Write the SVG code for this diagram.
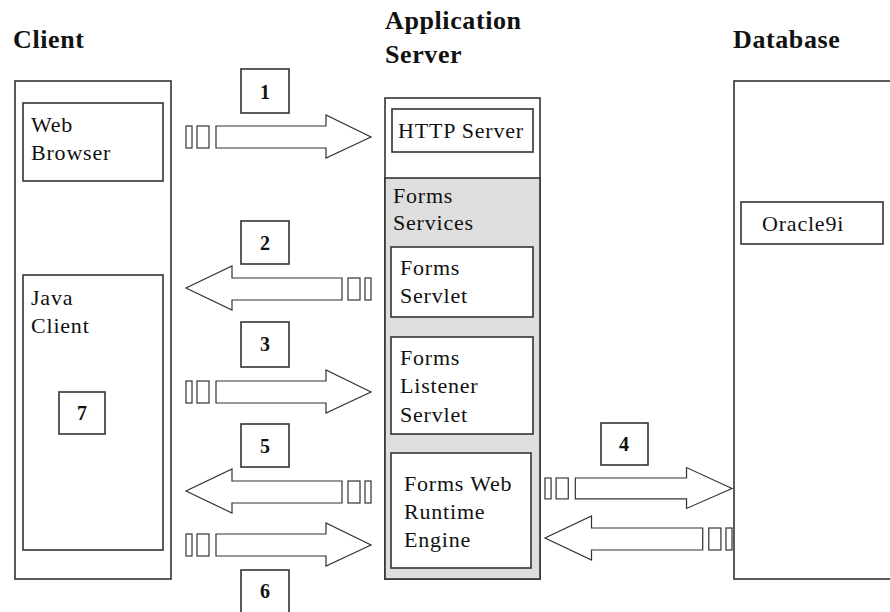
<svg xmlns="http://www.w3.org/2000/svg" width="890" height="612" viewBox="0 0 890 612">
<style>
.box{fill:#fff;stroke:#333;stroke-width:1.6}
.gray{fill:#dedede;stroke:#333;stroke-width:1.6}
.arrow{fill:#fff;stroke:#333;stroke-width:1.2}
.title{font-family:"Liberation Serif","Times New Roman",serif;font-weight:bold;font-size:26px;fill:#111;letter-spacing:0.6px}
.t{font-family:"Liberation Serif","Times New Roman",serif;font-size:22px;fill:#111;letter-spacing:0.8px}
.num{font-family:"Liberation Serif","Times New Roman",serif;font-weight:bold;font-size:20px;fill:#111;text-anchor:middle}
</style>
<rect width="890" height="612" fill="#fff"/>
<defs>
<g id="arrR">
<rect x="0" y="0" width="6" height="22" class="arrow"/>
<rect x="11" y="0" width="12" height="22" class="arrow"/>
<path d="M30,0 H140 V-11 L185,11 L140,32 V22 H30 Z" class="arrow"/>
</g>
<g id="arrL">
<rect x="179" y="0" width="6" height="22" class="arrow"/>
<rect x="162" y="0" width="12" height="22" class="arrow"/>
<path d="M156,0 H46 V-12 L0,10 L46,32 V22 H156 Z" class="arrow"/>
</g>
</defs>
<text class="title" x="13" y="48">Client</text>
<text class="title" x="385" y="29">Application</text>
<text class="title" x="385" y="63">Server</text>
<text class="title" x="733" y="48">Database</text>
<g id="client">
<rect class="box" x="15" y="81" width="156" height="498"/>
</g>
<g id="web-browser">
<rect class="box" x="23" y="103" width="140" height="78"/>
<text class="t" x="31" y="132">Web</text>
<text class="t" x="31" y="160">Browser</text>
</g>
<g id="java-client">
<rect class="box" x="23" y="275" width="140" height="275"/>
<text class="t" x="31" y="305">Java</text>
<text class="t" x="31" y="333">Client</text>
</g>
<g id="step7">
<rect class="box" x="59" y="392" width="46" height="42"/>
<text class="num" x="82" y="420">7</text>
</g>
<g id="app-server">
<rect class="box" x="385" y="98" width="155" height="481"/>
<rect class="gray" x="385" y="178" width="155" height="401"/>
</g>
<g id="http-server">
<rect class="box" x="392" y="109" width="141" height="43"/>
<text class="t" x="398" y="138">HTTP Server</text>
</g>
<g id="forms-services">
<text class="t" x="393" y="203">Forms</text>
<text class="t" x="393" y="230">Services</text>
</g>
<g id="forms-servlet">
<rect class="box" x="391" y="247" width="142" height="70"/>
<text class="t" x="400" y="275">Forms</text>
<text class="t" x="400" y="303">Servlet</text>
</g>
<g id="forms-listener-servlet">
<rect class="box" x="391" y="337" width="142" height="97"/>
<text class="t" x="400" y="365">Forms</text>
<text class="t" x="400" y="393">Listener</text>
<text class="t" x="400" y="422">Servlet</text>
</g>
<g id="forms-runtime">
<rect class="box" x="391" y="453" width="140" height="115"/>
<text class="t" x="404" y="491">Forms Web</text>
<text class="t" x="404" y="519">Runtime</text>
<text class="t" x="404" y="547">Engine</text>
</g>
<g id="database">
<rect class="box" x="734" y="81" width="160" height="498"/>
</g>
<g id="oracle9i">
<rect class="box" x="741" y="202" width="142" height="42"/>
<text class="t" x="762" y="231">Oracle9i</text>
</g>
<g id="step1"><rect class="box" x="241" y="69" width="48" height="44"/><text class="num" x="265" y="99">1</text></g>
<g id="step2"><rect class="box" x="241" y="221" width="48" height="43"/><text class="num" x="265" y="250">2</text></g>
<g id="step3"><rect class="box" x="241" y="322" width="48" height="45"/><text class="num" x="265" y="351">3</text></g>
<g id="step4"><rect class="box" x="601" y="423" width="47" height="42"/><text class="num" x="624" y="451">4</text></g>
<g id="step5"><rect class="box" x="241" y="424" width="48" height="43"/><text class="num" x="265" y="453">5</text></g>
<g id="step6"><rect class="box" x="241" y="570" width="48" height="44"/><text class="num" x="265" y="598">6</text></g>
<g id="connectors">
<use href="#arrR" x="186" y="126"/>
<use href="#arrL" x="186" y="278"/>
<use href="#arrR" x="186" y="381"/>
<use href="#arrL" x="186" y="481"/>
<use href="#arrR" x="186" y="534"/>
<g transform="translate(545,478) scale(1.011,0.95)"><use href="#arrR"/></g>
<g transform="translate(545,528) scale(1.011,1)"><use href="#arrL"/></g>
</g>
</svg>
